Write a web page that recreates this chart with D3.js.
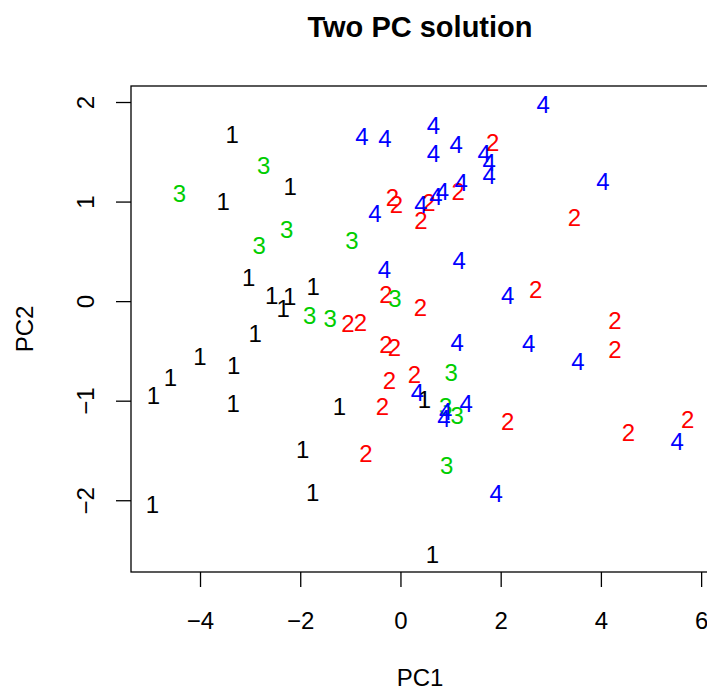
<!DOCTYPE html>
<html>
<head>
<meta charset="utf-8">
<script src="https://cdn.jsdelivr.net/npm/d3@7"></script>
<style>
  html, body { margin: 0; padding: 0; background: #fff; }
  svg { display: block; }
  text { font-family: "Liberation Sans", Arial, Helvetica, sans-serif; }
</style>
</head>
<body>
<svg id="chart" width="707" height="691"></svg>
<script>
// ---- data ----
const groups = ["1", "2", "3", "4"];
const groupColors = ["#000000", "#FF0000", "#00CD00", "#0000FF"];

const pc1_g1 = [-3.36, -2.20, -3.54, -3.03, -2.57, -2.34, -2.21, -1.74, -2.90, -4.00, -3.33, -4.59, -4.93, -3.34, 0.48, -1.22, -1.95, -1.75, 0.64, -4.95];
const pc2_g1 = [1.67, 1.15, 1.00, 0.235, 0.06, -0.07, 0.05, 0.145, -0.325, -0.56, -0.65, -0.77, -0.95, -1.03, -0.99, -1.06, -1.49, -1.92, -2.54, -2.04];

const pc1_g2 = [1.84, 1.15, 0.57, 0.41, -0.16, -0.08, 3.47, -0.29, 0.40, -1.05, -0.80, -0.29, -0.12, 0.28, -0.22, -0.36, -0.69, 2.70, 4.28, 4.28, 2.14, 4.55, 5.73];
const pc2_g2 = [1.595, 1.10, 0.99, 0.81, 1.04, 0.97, 0.84, 0.07, -0.06, -0.225, -0.21, -0.44, -0.47, -0.74, -0.80, -1.06, -1.53, 0.12, -0.19, -0.49, -1.21, -1.32, -1.19];

const pc1_g3 = [-2.73, -4.41, -2.27, -2.82, -0.97, -0.11, -1.81, -1.40, 1.01, 0.90, 1.13, 0.92];
const pc2_g3 = [1.36, 1.08, 0.715, 0.554, 0.61, 0.03, -0.14, -0.17, -0.72, -1.06, -1.15, -1.65];

const pc1_g4 = [-0.77, -0.31, 0.66, 0.66, 1.11, 1.67, 1.77, 1.77, 1.21, 0.84, 0.71, 0.41, -0.51, 1.17, 2.85, 4.04, -0.32, 1.13, 0.34, 0.90, 0.87, 1.31, 1.91, 2.14, 2.56, 3.54, 5.52];
const pc2_g4 = [1.65, 1.63, 1.76, 1.48, 1.57, 1.48, 1.39, 1.26, 1.19, 1.10, 1.05, 0.97, 0.88, 0.41, 1.98, 1.20, 0.32, -0.42, -0.92, -1.11, -1.18, -1.03, -1.93, 0.054, -0.43, -0.61, -1.41];

const xTicks = [-4, -2, 0, 2, 4, 6];
const yTicks = [-2, -1, 0, 1, 2];
const titleText = "Two PC solution";
const xLabel = "PC1";
const yLabel = "PC2";

// ---- build point table ----
const pcs = [[pc1_g1, pc2_g1], [pc1_g2, pc2_g2], [pc1_g3, pc2_g3], [pc1_g4, pc2_g4]];
const points = [];
pcs.forEach(([xs, ys], gi) => xs.forEach((x, i) => points.push({ x, y: ys[i], g: gi })));

// ---- layout ----
const svg = d3.select("#chart");
const box = { left: 131, right: 709, top: 86, bottom: 572 };

const allX = points.map(d => d.x), allY = points.map(d => d.y);
const ext = a => { const [lo, hi] = d3.extent(a); const p = (hi - lo) * 0.04; return [lo - p, hi + p]; };

const x = d3.scaleLinear().domain(ext(allX)).range([box.left, box.right]);
const y = d3.scaleLinear().domain(ext(allY)).range([box.bottom, box.top]);
const fmt = v => (v < 0 ? "\u2212" + Math.abs(v) : String(v));

// box
svg.append("rect")
  .attr("x", box.left).attr("y", box.top)
  .attr("width", box.right - box.left).attr("height", box.bottom - box.top)
  .attr("fill", "none").attr("stroke", "#000").attr("stroke-width", 1.3);

// x axis
const xAxis = svg.append("g").attr("transform", `translate(0,${box.bottom})`)
  .call(d3.axisBottom(x).tickValues(xTicks).tickSize(15).tickPadding(25).tickFormat(fmt));
xAxis.select(".domain").remove();
xAxis.selectAll("line").attr("stroke", "#000").attr("stroke-width", 1.3);
xAxis.selectAll("text").attr("font-size", 24).attr("font-family", "Liberation Sans, Arial, sans-serif").attr("fill", "#000");

// y axis
const yAxis = svg.append("g").attr("transform", `translate(${box.left},0)`)
  .call(d3.axisLeft(y).tickValues(yTicks).tickSize(15).tickFormat(fmt));
yAxis.select(".domain").remove();
yAxis.selectAll("line").attr("stroke", "#000").attr("stroke-width", 1.3);
yAxis.selectAll("text")
  .attr("font-size", 24).attr("font-family", "Liberation Sans, Arial, sans-serif").attr("fill", "#000")
  .attr("text-anchor", "middle")
  .attr("x", 0).attr("dy", 0)
  .attr("dominant-baseline", "central")
  .attr("transform", `translate(${85 - box.left},0) rotate(-90)`);

// points as group labels
svg.append("g").selectAll("text").data(points).join("text")
  .attr("x", d => x(d.x)).attr("y", d => y(d.y))
  .attr("text-anchor", "middle").attr("dominant-baseline", "central")
  .attr("font-size", 24)
  .attr("fill", d => groupColors[d.g])
  .text(d => groups[d.g]);

// title
svg.append("text").attr("x", (box.left + box.right) / 2).attr("y", 37)
  .attr("text-anchor", "middle").attr("font-weight", "bold").attr("font-size", 29)
  .text(titleText);

// axis titles
svg.append("text").attr("x", (box.left + box.right) / 2).attr("y", 677)
  .attr("text-anchor", "middle").attr("dominant-baseline", "central").attr("font-size", 24)
  .text(xLabel);
svg.append("text").attr("transform", `translate(24,${(box.top + box.bottom) / 2}) rotate(-90)`)
  .attr("text-anchor", "middle").attr("dominant-baseline", "central").attr("font-size", 24)
  .text(yLabel);
</script>
</body>
</html>
